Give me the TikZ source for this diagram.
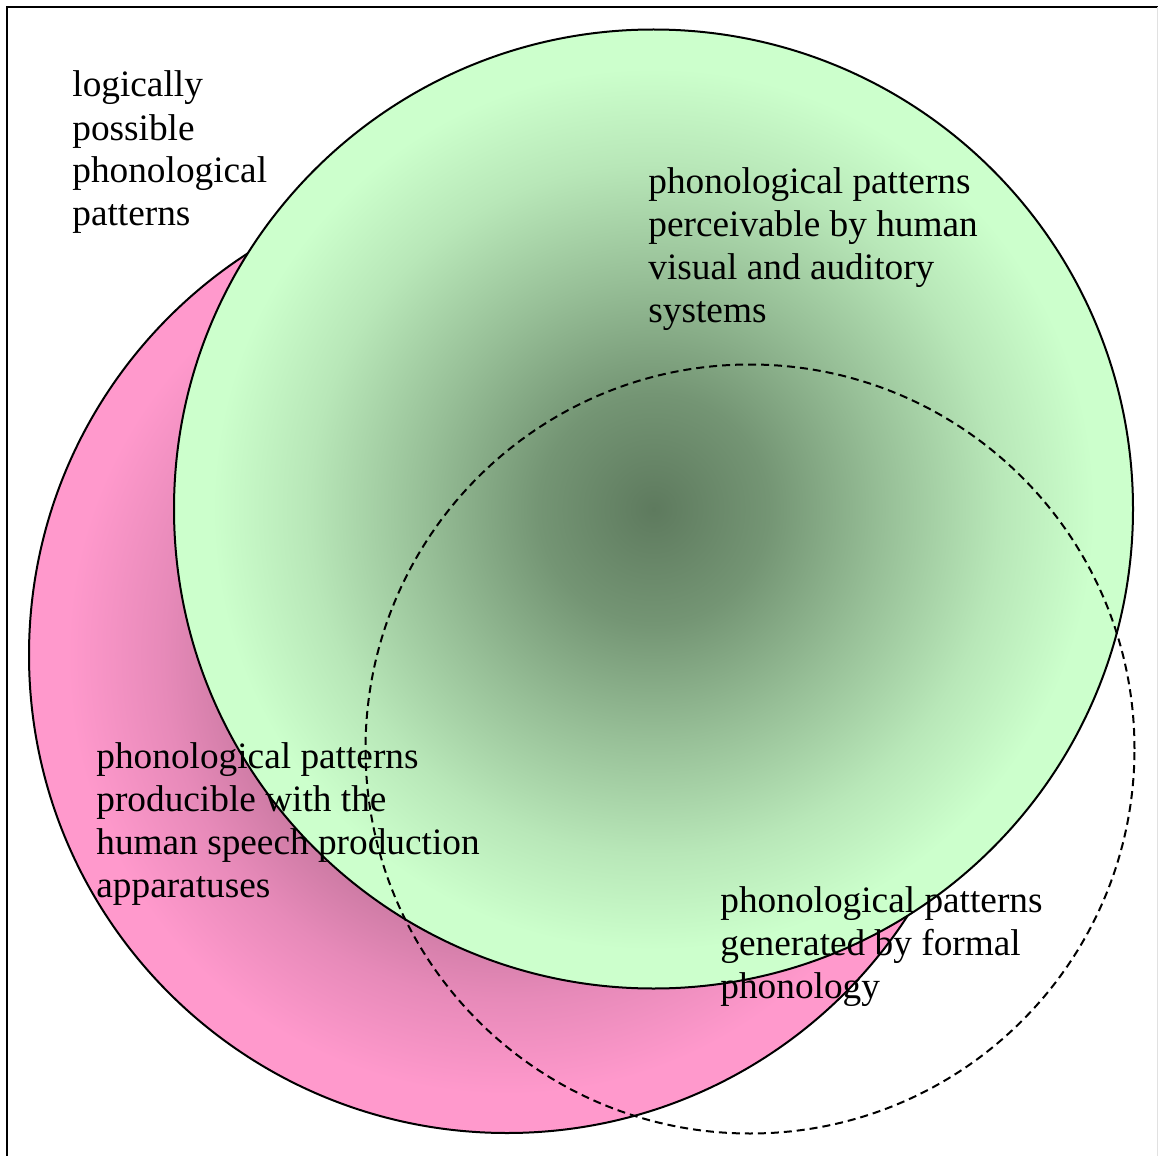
\documentclass[tikz,border=0pt]{standalone}
\usepackage{fontspec}
\setmainfont{Liberation Serif}
\definecolor{greenlight}{RGB}{204,255,204}
\definecolor{greendark}{RGB}{94,122,94}
\definecolor{pinklight}{RGB}{255,153,204}
\definecolor{pinkdark}{RGB}{120,72,96}
\definecolor{edgegray}{RGB}{225,225,225}
% radial fills: dark core easing out to the light tint near the rim (rim = 25bp)
\pgfdeclareradialshading{greenglow}{\pgfpoint{0bp}{0bp}}{%
  color(0bp)=(greendark);
  color(6bp)=(rgb,255:red,116;green,149;blue,116);
  color(12bp)=(rgb,255:red,151;green,191;blue,151);
  color(18bp)=(rgb,255:red,184;green,231;blue,184);
  color(23bp)=(greenlight); color(50bp)=(greenlight)}
\pgfdeclareradialshading{pinkglow}{\pgfpoint{0bp}{0bp}}{%
  color(0bp)=(pinkdark);
  color(6bp)=(rgb,255:red,147;green,88;blue,118);
  color(12bp)=(rgb,255:red,190;green,114;blue,152);
  color(18bp)=(rgb,255:red,231;green,138;blue,185);
  color(23bp)=(pinklight); color(50bp)=(pinklight)}
\begin{document}
\begin{tikzpicture}[x=0.5pt,y=0.5pt,
  setline/.style={line width=1pt, draw=black},
  formalline/.style={line width=1pt, draw=black, dash pattern=on 4pt off 2.5pt},
  lbl/.style={anchor=base west, inner sep=0pt, align=left,
    font=\fontsize{18.65}{21.5}\selectfont}]
\useasboundingbox (0,0) rectangle (1158,-1156);

% frame
\draw[line width=1pt] (7,-1156) -- (7,-7) -- (1158,-7);
\draw[edgegray, line width=0.5pt] (1157,-7) -- (1157,-1156);

% centres of the three sets
\coordinate (pinkc) at (507,-655);
\coordinate (greenc) at (653.5,-509);
\coordinate (dashc) at (750,-749);

% producible patterns
\shadedraw[setline, shading=pinkglow] (pinkc) circle[radius=478];
% perceivable patterns
\shadedraw[setline, shading=greenglow] (greenc) circle[radius=479.5];
% formal phonology
\draw[formalline] (dashc) circle[radius=384.5];

% labels (anchored on the baseline of their last line)
\node[lbl] (logical) at (72,-226) {logically\\possible\\phonological\\patterns};
\node[lbl] (perceive) at (648,-322) {phonological patterns\\perceivable by human\\visual and auditory\\systems};
\node[lbl] (produce) at (96,-897) {phonological patterns\\producible with the\\human speech production\\apparatuses};
\node[lbl] (formal) at (720,-998) {phonological patterns\\generated by formal\\phonology};
\end{tikzpicture}
\end{document}
